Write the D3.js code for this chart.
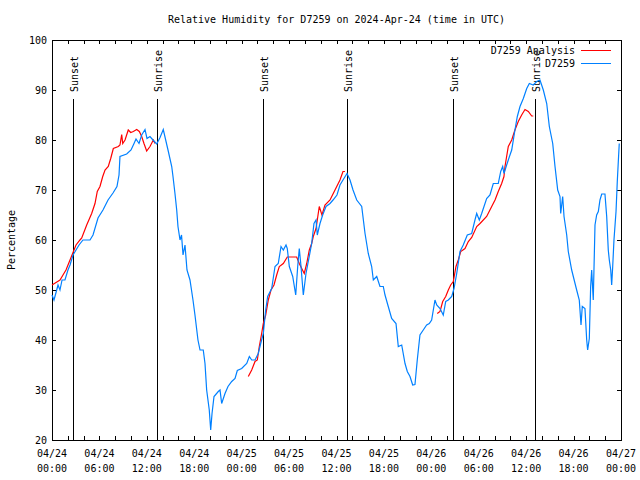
<!DOCTYPE html>
<html>
<head>
<meta charset="utf-8">
<script src="https://cdn.jsdelivr.net/npm/d3@7"></script>
<style>
  body { margin: 0; background: #fff; }
  text { font-family: "DejaVu Sans Mono", monospace; font-size: 10px; fill: #000; }
</style>
</head>
<body>
<svg id="chart" width="640" height="480"></svg>
<script>
// hours after 2024-04-24 00:00 UTC
const obsHours = [0, 0.25, 0.51, 0.76, 1.01, 1.27, 1.64, 2.02, 2.28, 2.66, 3.04, 3.42, 3.92, 4.81, 5.19, 5.82, 6.45, 7.09, 7.72, 8.22, 8.48, 8.60, 9.45, 10.0, 10.38, 10.63, 11.01, 11.35, 11.77, 12.02, 12.40, 12.78, 13.25, 13.67, 14.08, 14.68, 15.15, 15.31, 15.56, 15.78, 15.94, 16.20, 16.39, 16.58, 16.83, 17.08, 17.46, 17.84, 18.09, 18.47, 18.73, 19.14, 19.36, 19.57, 19.90, 20.08, 20.25, 20.50, 21.04, 21.26, 21.47, 21.89, 22.27, 22.74, 23.16, 23.45, 24.00, 24.64, 24.97, 25.27, 25.69, 26.10, 26.41, 26.74, 27.04, 27.29, 27.80, 28.22, 28.63, 28.98, 29.27, 29.61, 29.77, 30.03, 30.46, 30.84, 31.09, 31.29, 31.51, 31.80, 32.14, 32.43, 32.86, 33.15, 33.41, 33.57, 33.91, 34.25, 34.67, 35.18, 35.56, 36.06, 36.44, 36.82, 37.33, 37.71, 38.09, 38.56, 39.19, 39.61, 40.02, 40.45, 40.66, 41.09, 41.50, 41.92, 42.14, 42.55, 42.98, 43.53, 43.82, 44.25, 44.67, 44.96, 45.30, 45.64, 45.93, 46.22, 46.56, 46.98, 47.41, 47.74, 48.04, 48.46, 48.68, 49.10, 49.51, 49.82, 50.15, 50.58, 50.87, 51.21, 51.63, 52.04, 52.55, 53.11, 53.52, 53.74, 54.07, 54.37, 55.00, 55.42, 55.84, 56.47, 56.78, 57.03, 57.19, 57.53, 57.95, 58.17, 58.58, 58.88, 59.22, 59.64, 60.07, 60.40, 60.90, 61.33, 61.75, 62.17, 62.60, 62.93, 63.36, 63.65, 63.99, 64.28, 64.37, 64.62, 64.79, 65.13, 65.33, 65.76, 66.39, 66.72, 66.94, 67.10, 67.44, 67.66, 67.78, 67.99, 68.16, 68.29, 68.49, 68.71, 68.92, 69.13, 69.34, 69.56, 69.97, 70.19, 70.39, 70.52, 70.70, 70.82, 70.95, 71.11, 71.37, 71.53, 71.66, 71.78];
const obsValues = [49, 48, 49.5, 51, 50, 52, 52, 54, 55, 57, 58, 59, 60, 60, 61, 64.4, 66, 68, 69.4, 70.7, 73, 76.7, 77.2, 78, 79.3, 80.2, 79.3, 81, 82.1, 80.3, 80.7, 80, 79.2, 80.5, 82.1, 78, 74.7, 72.7, 69.3, 66, 62.7, 60, 61, 57, 59, 54, 52, 48, 45, 40, 38, 38, 35.3, 30, 26, 22, 25.3, 28.7, 29.7, 30, 27.3, 29.3, 30.7, 31.7, 32.3, 33.9, 34.3, 35.3, 36.7, 36, 36, 37.3, 39.3, 41.3, 46, 48.7, 50.3, 54.7, 55.3, 58.7, 58, 59, 58.3, 54.7, 52.7, 49, 54.7, 58.3, 54.7, 49, 53.3, 55.7, 59.3, 63.3, 64, 61, 63.3, 65, 66.7, 67.3, 68, 69, 71, 72, 73.3, 72, 70, 68, 66.7, 61.3, 57.3, 54.7, 52, 52.7, 50.7, 50.7, 49, 46.7, 44.3, 43.3, 38.7, 39, 35.3, 33.7, 32.7, 31, 31.1, 36, 41, 42, 43, 43.3, 44, 48, 47, 46.3, 45, 47.7, 48, 48.7, 50.3, 53.3, 57.7, 59, 61, 61.3, 64, 65.3, 64, 65.3, 68.3, 69, 71.3, 71.3, 73.7, 74.7, 73.3, 75, 77, 78, 82, 84.7, 86.7, 88.3, 90.3, 91.3, 91, 91.7, 92, 90, 87.3, 82.7, 79.3, 74.7, 70, 68.7, 65.3, 68.7, 64.7, 61, 57.7, 54, 50, 48, 43, 46.7, 46.3, 40, 38, 40.3, 50.7, 54, 48, 63, 65, 65.7, 68, 69.2, 69.2, 64.7, 58, 56, 54, 51, 54.7, 60, 65.7, 71.7, 75.7, 79.3];

// analysis, null marks a gap
const anaHours = [0, 0.51, 1.01, 1.39, 1.77, 2.28, 2.66, 3.04, 3.54, 3.76, 4.39, 5.02, 5.44, 5.73, 6.07, 6.42, 6.71, 7.12, 7.43, 7.76, 8.39, 8.60, 8.82, 8.95, 9.24, 9.65, 9.96, 10.29, 10.72, 11.05, 11.35, 11.64, 11.98, 12.40, 12.82, 13.03, 18,
  24.84, 25.27, 25.69, 25.98, 26.23, 26.53, 26.74, 27.04, 27.37, 27.71, 28.09, 28.43, 28.76, 29.27, 29.77, 30.96, 31.29, 31.60, 31.92, 32.23, 32.56, 32.86, 33.06, 33.41, 33.57, 33.82, 34.16, 34.54, 35.18, 35.81, 36.44, 36.82, 37.07, 42,
  48.75, 49.10, 49.44, 49.82, 50.15, 50.45, 50.78, 51.12, 51.41, 51.72, 52.26, 52.68, 53.11, 53.74, 54.16, 55.00, 55.64, 56.06, 56.47, 56.90, 57.19, 57.32, 57.74, 58.17, 58.58, 59.00, 59.43, 59.85, 60.27, 60.70, 60.90];
const anaValues = [51, 51.5, 52, 53, 54, 56, 57.5, 59, 60, 60.4, 63, 65.3, 67.3, 69.7, 70.7, 72.7, 74, 74.7, 76.3, 78.3, 78.7, 79, 81.1, 79.3, 80, 82, 81.5, 81.7, 82.1, 81.7, 80.7, 79.3, 77.8, 78.7, 80, 79.3, null,
  32.7, 34, 35.7, 36, 38.7, 41.3, 43.3, 45, 48, 50, 51, 53, 54.7, 55.3, 56.6, 56.6, 55.3, 54.3, 53.3, 55.3, 58, 59.3, 60.7, 62.3, 64, 66.7, 65, 67, 68, 70, 72, 73.7, 73.7, null,
  45.3, 45.7, 47.7, 48.7, 50, 51, 51.7, 54.7, 56, 57.7, 58.3, 59.7, 60.5, 62.7, 63.3, 64.7, 66.7, 68, 69.7, 71.3, 72.7, 74.7, 78.7, 80, 82, 83.7, 85, 86.1, 85.7, 84.8, 84.8];

const sunHours = [2.70, 13.25, 26.74, 37.29, 50.78, 61.16];
const sunLabels = ["Sunset", "Sunrise", "Sunset", "Sunrise", "Sunset", "Sunrise"];

const yTicks = [20, 30, 40, 50, 60, 70, 80, 90, 100];
const seriesNames = ["D7259 Analysis", "D7259"];
const seriesColors = ["#ff0000", "#0080ff"];

const t0 = Date.UTC(2024, 3, 24);
const toDate = h => new Date(t0 + h * 3600e3);

const svg = d3.select("#chart");
const margin = { left: 52, right: 19, top: 40, bottom: 40 };
const W = 640, H = 480;

const x = d3.scaleUtc()
    .domain([toDate(0), toDate(72)])
    .range([margin.left, W - margin.right]);
const y = d3.scaleLinear()
    .domain([20, 100])
    .range([H - margin.bottom, margin.top]);

// title
svg.append("text")
    .attr("x", (margin.left + W - margin.right) / 2)
    .attr("y", 23)
    .attr("text-anchor", "middle")
    .text("Relative Humidity for D7259 on 2024-Apr-24 (time in UTC)");

// y label
svg.append("text")
    .attr("transform", `translate(15,${(margin.top + H - margin.bottom) / 2}) rotate(-90)`)
    .attr("text-anchor", "middle")
    .text("Percentage");

// ticks
const g = svg.append("g").attr("shape-rendering", "crispEdges");
const hourTicks = d3.utcHour.every(2).range(toDate(0), toDate(72.01));
const tickLen = 4;
hourTicks.forEach(d => {
    g.append("line").attr("x1", Math.round(x(d)) + 0.5).attr("x2", Math.round(x(d)) + 0.5)
        .attr("y1", y(20)).attr("y2", y(20) - tickLen).attr("stroke", "#000");
    g.append("line").attr("x1", Math.round(x(d)) + 0.5).attr("x2", Math.round(x(d)) + 0.5)
        .attr("y1", y(100)).attr("y2", y(100) + tickLen).attr("stroke", "#000");
});
const labelTicks = d3.utcHour.every(6).range(toDate(0), toDate(72.01));
const fmtDay = d3.utcFormat("%m/%d"), fmtHour = d3.utcFormat("%H:%M");
labelTicks.forEach(d => {
    svg.append("text").attr("x", x(d)).attr("y", y(20) + 17).attr("text-anchor", "middle").text(fmtDay(d));
    svg.append("text").attr("x", x(d)).attr("y", y(20) + 32).attr("text-anchor", "middle").text(fmtHour(d));
});
yTicks.forEach(v => {
    g.append("line").attr("x1", margin.left).attr("x2", margin.left + tickLen)
        .attr("y1", Math.round(y(v)) + 0.5).attr("y2", Math.round(y(v)) + 0.5).attr("stroke", "#000");
    g.append("line").attr("x1", W - margin.right).attr("x2", W - margin.right - tickLen)
        .attr("y1", Math.round(y(v)) + 0.5).attr("y2", Math.round(y(v)) + 0.5).attr("stroke", "#000");
    svg.append("text").attr("x", margin.left - 5).attr("y", y(v) + 4)
        .attr("text-anchor", "end").text(v);
});

// sunrise / sunset markers
sunHours.forEach((h, i) => {
    const sx = Math.round(x(toDate(h))) + 0.5;
    g.append("line").attr("x1", sx).attr("x2", sx)
        .attr("y1", margin.top + 59).attr("y2", y(20)).attr("stroke", "#000");
    svg.append("text")
        .attr("transform", `translate(${sx + 4},${margin.top + 52}) rotate(-90)`)
        .attr("text-anchor", "start")
        .text(sunLabels[i]);
});

// series
const anaData = anaHours.map((h, i) => ({ t: toDate(h), v: anaValues[i] }));
const obsData = obsHours.map((h, i) => ({ t: toDate(h), v: obsValues[i] }));
const line = d3.line().defined(d => d.v != null).x(d => x(d.t)).y(d => y(d.v));

svg.append("path").datum(anaData).attr("d", line)
    .attr("fill", "none").attr("stroke", seriesColors[0]).attr("stroke-width", 1.2);
svg.append("path").datum(obsData).attr("d", line)
    .attr("fill", "none").attr("stroke", seriesColors[1]).attr("stroke-width", 1.2);

// legend
seriesNames.forEach((name, i) => {
    const ly = 50 + i * 13;
    svg.append("text").attr("x", 575).attr("y", ly + 4).attr("text-anchor", "end").text(name);
    g.append("line").attr("x1", 581).attr("x2", 611).attr("y1", ly + 0.5).attr("y2", ly + 0.5)
        .attr("stroke", seriesColors[i]);
});

// frame
g.append("rect")
    .attr("x", margin.left + 0.5).attr("y", margin.top + 0.5)
    .attr("width", W - margin.left - margin.right).attr("height", H - margin.top - margin.bottom)
    .attr("fill", "none").attr("stroke", "#000");
</script>
</body>
</html>
